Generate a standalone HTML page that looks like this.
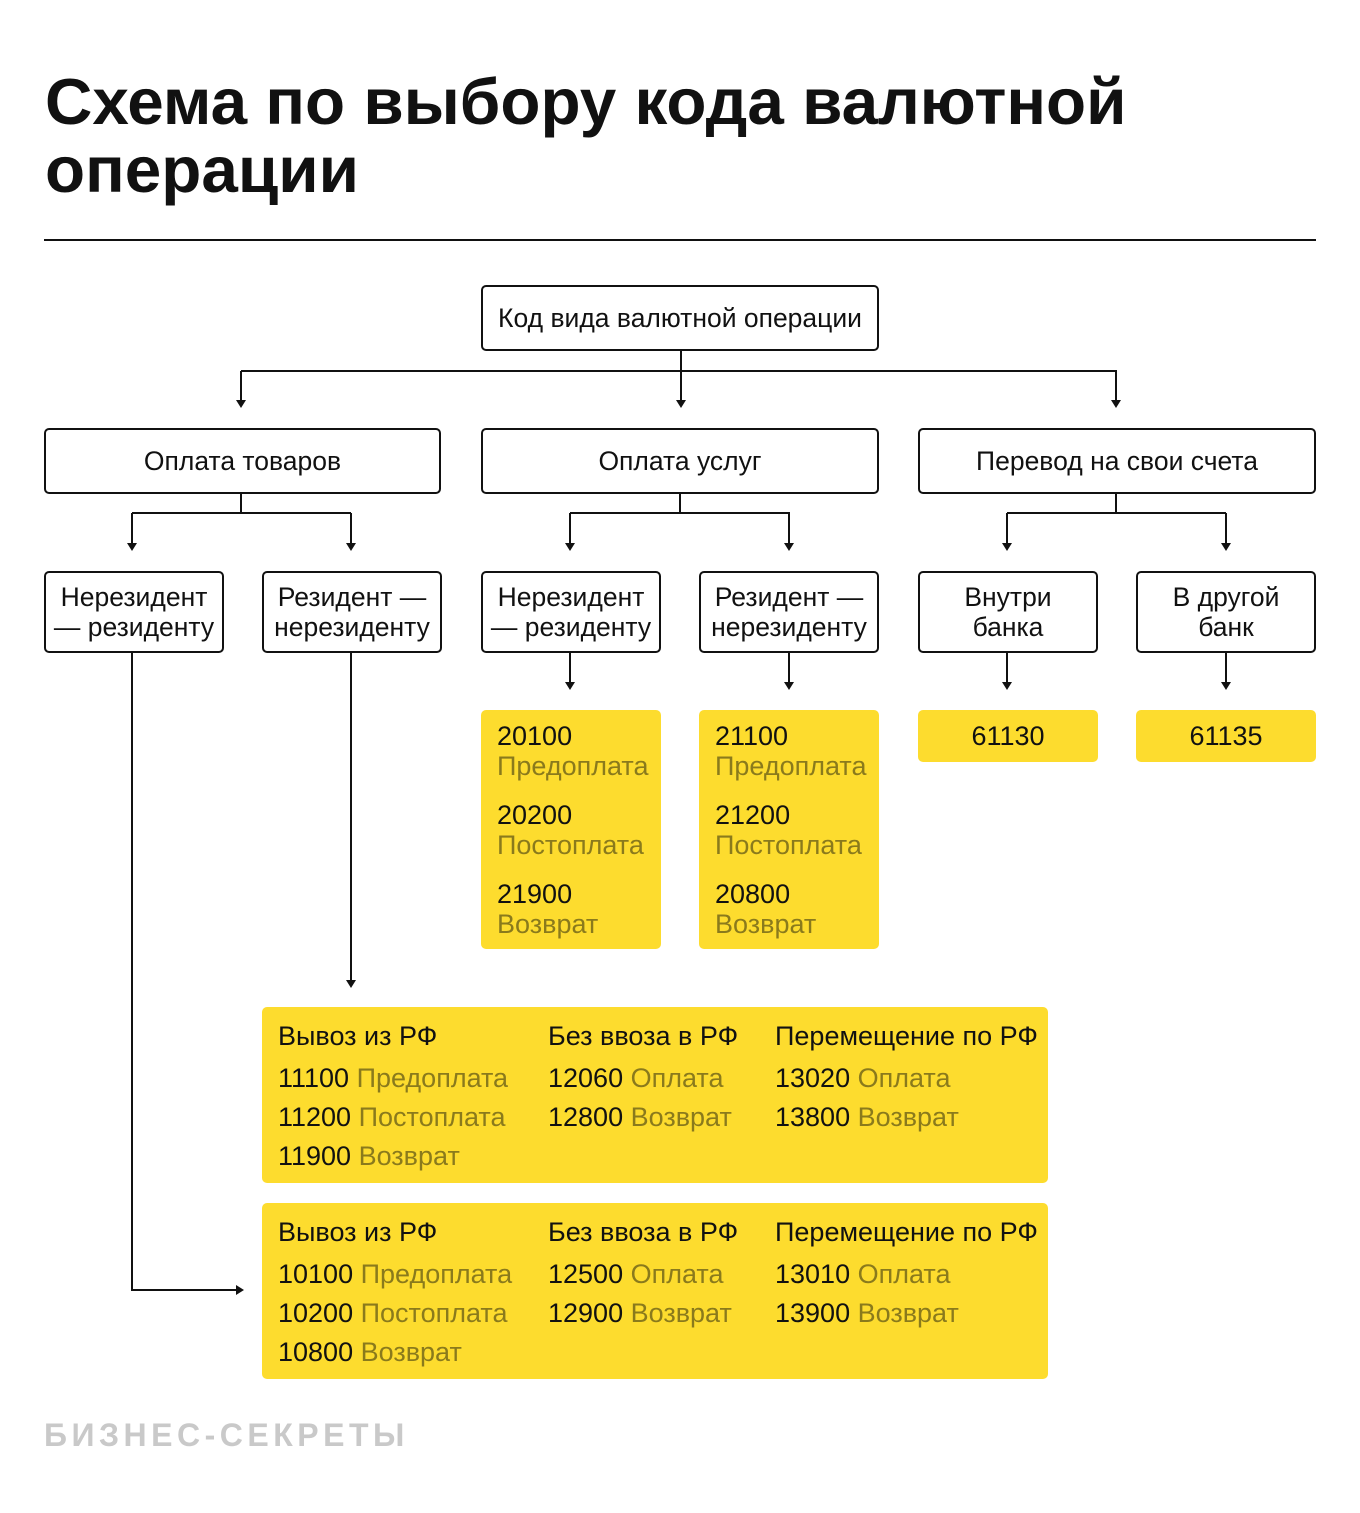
<!DOCTYPE html>
<html><head><meta charset="utf-8"><style>
*{margin:0;padding:0;box-sizing:border-box}
body{width:1360px;height:1513px;background:#fff;position:relative;font-family:"Liberation Sans","DejaVu Sans",sans-serif;color:#111;overflow:hidden}
.a{position:absolute}
.t{font-weight:bold;font-size:65px;line-height:68px;left:45px;letter-spacing:0;transform-origin:0 0;transform:scaleX(1.01)}
.b{position:absolute;border:2px solid #111;border-radius:5px;background:#fff;display:flex;align-items:center;justify-content:center;text-align:center;font-size:26.5px;line-height:30px}
.y{position:absolute;background:#fddc2e;border-radius:5px}
.y .v{position:absolute;font-size:27px;line-height:30px;white-space:nowrap}
.g{color:#8a7a1c}
.l{position:absolute;background:#111}
svg{position:absolute;left:0;top:0}
</style></head><body>
<div class="a t" style="top:68px">Схема по выбору кода валютной</div>
<div class="a t" style="top:136px">операции</div>
<div class="l" style="left:44px;top:239px;width:1272px;height:2px"></div>

<svg width="1360" height="1513">
<g stroke="#111" stroke-width="2" fill="none">
<path d="M681 350V372M241 371H1117M241 371V400M681 371V400M1116 371V400"/>
<path d="M241 493V514M132 513H351M132 513V543M351 513V543"/>
<path d="M680 493V514M570 513H790M570 513V543M789 513V543"/>
<path d="M1116 493V514M1007 513H1226M1007 513V543M1226 513V543"/>
<path d="M570 652V682M789 652V682M1007 652V682M1226 652V682"/>
<path d="M351 652V980M132 652V1290H236"/>
</g>
<g fill="#111">
<path d="M236 400h10l-5 8z"/><path d="M676 400h10l-5 8z"/><path d="M1111 400h10l-5 8z"/>
<path d="M127 543h10l-5 8z"/><path d="M346 543h10l-5 8z"/>
<path d="M565 543h10l-5 8z"/><path d="M784 543h10l-5 8z"/>
<path d="M1002 543h10l-5 8z"/><path d="M1221 543h10l-5 8z"/>
<path d="M565 682h10l-5 8z"/><path d="M784 682h10l-5 8z"/><path d="M1002 682h10l-5 8z"/><path d="M1221 682h10l-5 8z"/>
<path d="M346 980h10l-5 8z"/><path d="M236 1285v10l8-5z"/>
</g>
</svg>

<div class="b" style="left:481px;top:285px;width:398px;height:66px">Код вида валютной операции</div>
<div class="b" style="left:44px;top:428px;width:397px;height:66px">Оплата товаров</div>
<div class="b" style="left:481px;top:428px;width:398px;height:66px">Оплата услуг</div>
<div class="b" style="left:918px;top:428px;width:398px;height:66px">Перевод на свои счета</div>

<div class="b" style="left:44px;top:571px;width:180px;height:82px">Нерезидент<br>— резиденту</div>
<div class="b" style="left:262px;top:571px;width:180px;height:82px">Резидент —<br>нерезиденту</div>
<div class="b" style="left:481px;top:571px;width:180px;height:82px">Нерезидент<br>— резиденту</div>
<div class="b" style="left:699px;top:571px;width:180px;height:82px">Резидент —<br>нерезиденту</div>
<div class="b" style="left:918px;top:571px;width:180px;height:82px">Внутри<br>банка</div>
<div class="b" style="left:1136px;top:571px;width:180px;height:82px">В другой<br>банк</div>

<div class="y" style="left:481px;top:710px;width:180px;height:239px">
<div class="v" style="left:16px;top:11px">20100</div><div class="v g" style="left:16px;top:41px">Предоплата</div>
<div class="v" style="left:16px;top:90px">20200</div><div class="v g" style="left:16px;top:120px">Постоплата</div>
<div class="v" style="left:16px;top:169px">21900</div><div class="v g" style="left:16px;top:199px">Возврат</div>
</div>
<div class="y" style="left:699px;top:710px;width:180px;height:239px">
<div class="v" style="left:16px;top:11px">21100</div><div class="v g" style="left:16px;top:41px">Предоплата</div>
<div class="v" style="left:16px;top:90px">21200</div><div class="v g" style="left:16px;top:120px">Постоплата</div>
<div class="v" style="left:16px;top:169px">20800</div><div class="v g" style="left:16px;top:199px">Возврат</div>
</div>
<div class="y" style="left:918px;top:710px;width:180px;height:52px"><div class="v" style="left:0;width:180px;text-align:center;top:11px">61130</div></div>
<div class="y" style="left:1136px;top:710px;width:180px;height:52px"><div class="v" style="left:0;width:180px;text-align:center;top:11px">61135</div></div>

<div class="y" style="left:262px;top:1007px;width:786px;height:176px">
<div class="v" style="left:16px;top:14px">Вывоз из РФ</div>
<div class="v" style="left:16px;top:56px">11100 <span class="g">Предоплата</span></div>
<div class="v" style="left:16px;top:95px">11200 <span class="g">Постоплата</span></div>
<div class="v" style="left:16px;top:134px">11900 <span class="g">Возврат</span></div>
<div class="v" style="left:286px;top:14px">Без ввоза в РФ</div>
<div class="v" style="left:286px;top:56px">12060 <span class="g">Оплата</span></div>
<div class="v" style="left:286px;top:95px">12800 <span class="g">Возврат</span></div>
<div class="v" style="left:513px;top:14px">Перемещение по РФ</div>
<div class="v" style="left:513px;top:56px">13020 <span class="g">Оплата</span></div>
<div class="v" style="left:513px;top:95px">13800 <span class="g">Возврат</span></div>
</div>
<div class="y" style="left:262px;top:1203px;width:786px;height:176px">
<div class="v" style="left:16px;top:14px">Вывоз из РФ</div>
<div class="v" style="left:16px;top:56px">10100 <span class="g">Предоплата</span></div>
<div class="v" style="left:16px;top:95px">10200 <span class="g">Постоплата</span></div>
<div class="v" style="left:16px;top:134px">10800 <span class="g">Возврат</span></div>
<div class="v" style="left:286px;top:14px">Без ввоза в РФ</div>
<div class="v" style="left:286px;top:56px">12500 <span class="g">Оплата</span></div>
<div class="v" style="left:286px;top:95px">12900 <span class="g">Возврат</span></div>
<div class="v" style="left:513px;top:14px">Перемещение по РФ</div>
<div class="v" style="left:513px;top:56px">13010 <span class="g">Оплата</span></div>
<div class="v" style="left:513px;top:95px">13900 <span class="g">Возврат</span></div>
</div>

<div class="a" style="left:44px;top:1418px;font-size:32px;font-weight:bold;color:#c9c9c9;letter-spacing:4.5px;line-height:34px">БИЗНЕС-СЕКРЕТЫ</div>
</body></html>
